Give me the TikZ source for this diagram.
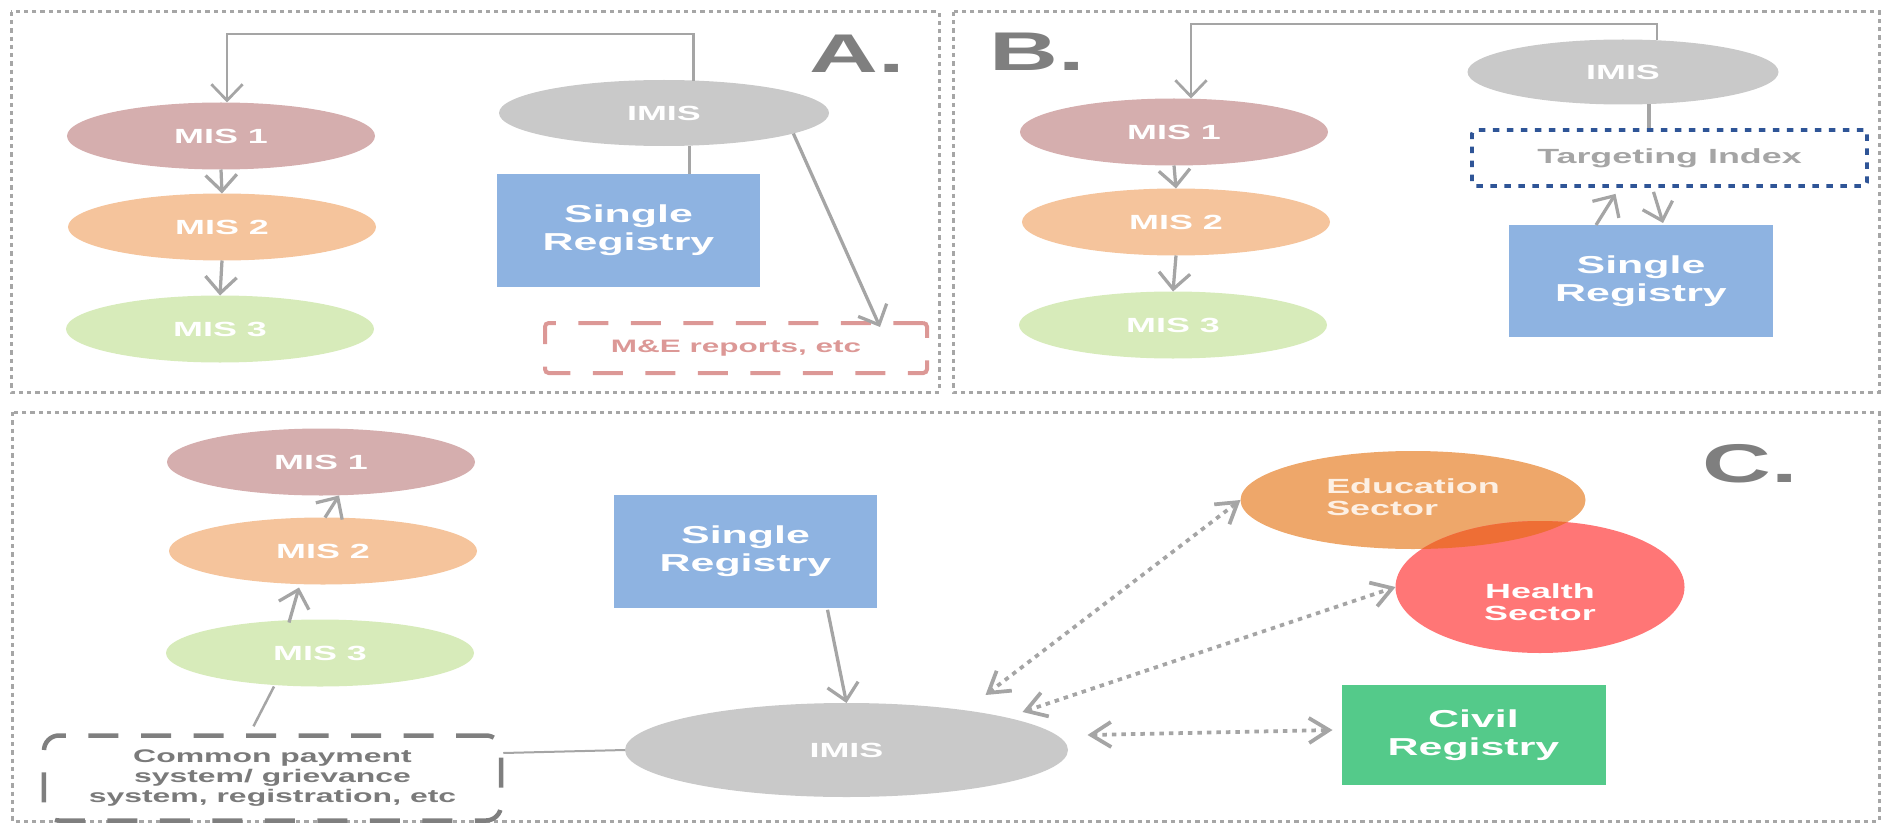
\documentclass[tikz,border=0pt]{standalone}
\usepackage{fontspec}
\setmainfont{Liberation Sans}[FakeStretch=1.75]
\usetikzlibrary{shapes.geometric,arrows.meta,calc}
\definecolor{bordgray}{HTML}{A6A6A6}
\definecolor{lngray}{HTML}{A5A5A5}
\definecolor{lblgray}{HTML}{7F7F7F}
\definecolor{mis1}{HTML}{D5AEAE}
\definecolor{mis2}{HTML}{F5C49C}
\definecolor{mis3}{HTML}{D7EBBA}
\definecolor{imis}{HTML}{C9C9C9}
\definecolor{sr}{HTML}{8EB3E1}
\definecolor{civ}{HTML}{54CA8A}
\definecolor{educ}{HTML}{EEA76A}
\definecolor{heal}{HTML}{FF7676}
\definecolor{overl}{HTML}{EE6E35}
\definecolor{mecol}{HTML}{DC9896}
\definecolor{tiblue}{HTML}{2F5597}
\definecolor{cpsgray}{HTML}{7F7F7F}
\definecolor{cpstext}{HTML}{7A7A7A}
\definecolor{edutext}{HTML}{FDF0E4}
\begin{document}
\begin{tikzpicture}[x=0.4pt,y=-0.4pt,
  ell/.style={ellipse, inner sep=0pt, outer sep=0pt, minimum width=123.2pt, minimum height=26.8pt, text=white, font=\bfseries\fontsize{8.2}{9.5}\selectfont},
  box/.style={rectangle, inner sep=0pt, outer sep=0pt, minimum width=105.2pt, minimum height=45pt, text=white, align=center, font=\bfseries\fontsize{9.8}{11.2}\selectfont},
  panel/.style={draw=bordgray, line width=1.2pt, dash pattern=on 1.7pt off 1.6pt},
  ln/.style={draw=lngray, line width=1.3pt},
  arr/.style={ln, -{Straight Barb[length=6.5pt,width=12.5pt]}},
  darr/.style={draw=lngray, line width=1.5pt, dash pattern=on 1.8pt off 2pt, {Straight Barb[length=8pt,width=10pt]}-{Straight Barb[length=8pt,width=10pt]}},
  lbl/.style={text=lblgray, inner sep=0pt, font=\bfseries\fontsize{21.8}{24}\selectfont},
  txtw/.style={text=white, inner sep=0pt, font=\bfseries\fontsize{8.2}{8.8}\selectfont}
]
\useasboundingbox (0,0) rectangle (1885,826);

% panel frames
\draw[panel] (11,12) rectangle (939,392);
\draw[panel] (953,12) rectangle (1879,392);
\draw[panel] (12,412) rectangle (1879,821);

% ---------- Panel A ----------
\node[lbl, anchor=base] (LA) at (857,73) {A.};
\node[ell, fill=mis1] (MIS1A) at (221,136) {MIS 1};
\node[ell, fill=mis2] (MIS2A) at (222,227) {MIS 2};
\node[ell, fill=mis3] (MIS3A) at (220,329) {MIS 3};
\node[ell, fill=imis, minimum width=132pt, minimum height=26.4pt] (IMISA) at (664,113) {IMIS};
\node[box, fill=sr] (SRA) at (628.5,230.5) {Single\\Registry};
\node[draw=mecol, line width=1.6pt, dash pattern=on 12pt off 9pt, rounded corners=1.5pt, minimum width=152.8pt, minimum height=20pt, inner sep=0pt, text=mecol, font=\bfseries\fontsize{7.2}{9}\selectfont] (MEA) at (736,348) {M\&E reports, etc};

\draw[arr, line width=1.1pt] (IMISA.48) -- ++(0,-46.5) -| ([xshift=2.4pt]MIS1A.north);
\draw[arr] (MIS1A.south) -- (MIS2A.north);
\draw[arr] (MIS2A.south) -- (MIS3A.north);
\draw[ln] (IMISA.-52.5) -- (IMISA.-52.5 |- SRA.north);
\draw[arr] (IMISA.-9.6) -- ($(MEA.north)+(144,6)$);

% ---------- Panel B ----------
\node[lbl, anchor=base] (LB) at (1037,71) {B.};
\node[ell, fill=mis1] (MIS1B) at (1174,132) {MIS 1};
\node[ell, fill=mis2] (MIS2B) at (1176,222) {MIS 2};
\node[ell, fill=mis3] (MIS3B) at (1173,325) {MIS 3};
\node[ell, fill=imis, minimum width=124.4pt, minimum height=26pt] (IMISB) at (1623,72) {IMIS};
\node[draw=tiblue, line width=1.5pt, dash pattern=on 2.6pt off 3pt, rounded corners=1.5pt, minimum width=158pt, minimum height=22.4pt, inner sep=0pt, text=lngray, font=\bfseries\fontsize{8.2}{10}\selectfont] (TIB) at (1669.5,158) {Targeting Index};
\node[box, fill=sr, minimum width=105.6pt, minimum height=44.8pt] (SRB) at (1641,281) {Single\\Registry};

\draw[arr, line width=1.1pt] (IMISB.43) -- ++(0,-16.3) -| ([xshift=6.8pt]MIS1B.north);
\draw[arr] (MIS1B.south) -- (MIS2B.north);
\draw[arr] (MIS2B.south) -- (MIS3B.north);
\draw[ln] (IMISB.-51) -- (IMISB.-51 |- TIB.north);
\draw[arr] ($(SRB.north)+(-45,0)$) -- ($(TIB.south)+(-54,6)$);
\draw[arr] ($(TIB.south)+(-16,4)$) -- ($(SRB.north)+(22,-2)$);

% ---------- Panel C ----------
\node[lbl, anchor=base] (LC) at (1750,482) {C.};
\node[ell, fill=mis1] (MIS1C) at (321,462) {MIS 1};
\node[ell, fill=mis2] (MIS2C) at (323,551) {MIS 2};
\node[ell, fill=mis3] (MIS3C) at (320,653) {MIS 3};
\node[box, fill=sr] (SRC) at (745.5,551.5) {Single\\Registry};
\node[ell, fill=imis, minimum width=177.2pt, minimum height=37.6pt] (IMISC) at (846.5,750) {IMIS};
\node[draw=cpsgray, line width=1.8pt, dash pattern=on 12pt off 9pt, rounded corners=6pt, minimum width=182.8pt, minimum height=34pt, inner sep=0pt, align=center, text=cpstext, font=\bfseries\fontsize{7.3}{8.1}\selectfont] (CPS) at (272.5,778) {Common payment\\system/ grievance\\system, registration, etc};

\draw[arr] ($(MIS2C.north)+(2,0)$) -- ($(MIS1C.south)+(18,0)$);
\draw[arr] ($(MIS3C.north)+(-31,3)$) -- ($(MIS2C.south)+(-24,3)$);
\draw[ln, line width=1pt] ($(CPS.north)+(-19,-7)$) -- ($(MIS3C.south)+(-46,0)$);
\draw[ln, line width=0.8pt] ($(CPS.east)+(0,-25)$) -- (IMISC.west);
\draw[arr] ($(SRC.south)+(82,2)$) -- (IMISC.north);

\node[ellipse, fill=educ, inner sep=0pt, outer sep=0pt, minimum width=138pt, minimum height=39.2pt] (EDU) at (1413,500) {};
\node[ellipse, fill=heal, inner sep=0pt, outer sep=0pt, minimum width=115.6pt, minimum height=52.8pt] (HEA) at (1540,587) {};
\begin{scope}
  \clip (EDU.center) ellipse [x radius=69pt, y radius=19.6pt];
  \fill[overl] (HEA.center) ellipse [x radius=57.8pt, y radius=26.4pt];
\end{scope}
\node[txtw, align=left, text=edutext] (EDUT) at ($(EDU.center)+(0,-3)$) {Education\\Sector};
\node[txtw, align=center] (HEAT) at ($(HEA.center)+(0,15)$) {Health\\Sector};
\node[box, fill=civ, minimum width=105.6pt, minimum height=40pt] (CIV) at (1473.5,735) {Civil\\Registry};

\draw[darr] ($(IMISC.center)+(139,-55)$) -- (EDU.west);
\draw[darr] ($(IMISC.center)+(176,-38)$) -- (HEA.west);
\draw[darr] ($(IMISC.center)+(241,-15)$) -- ($(CIV.west)+(-9,-5)$);
\end{tikzpicture}
\end{document}
